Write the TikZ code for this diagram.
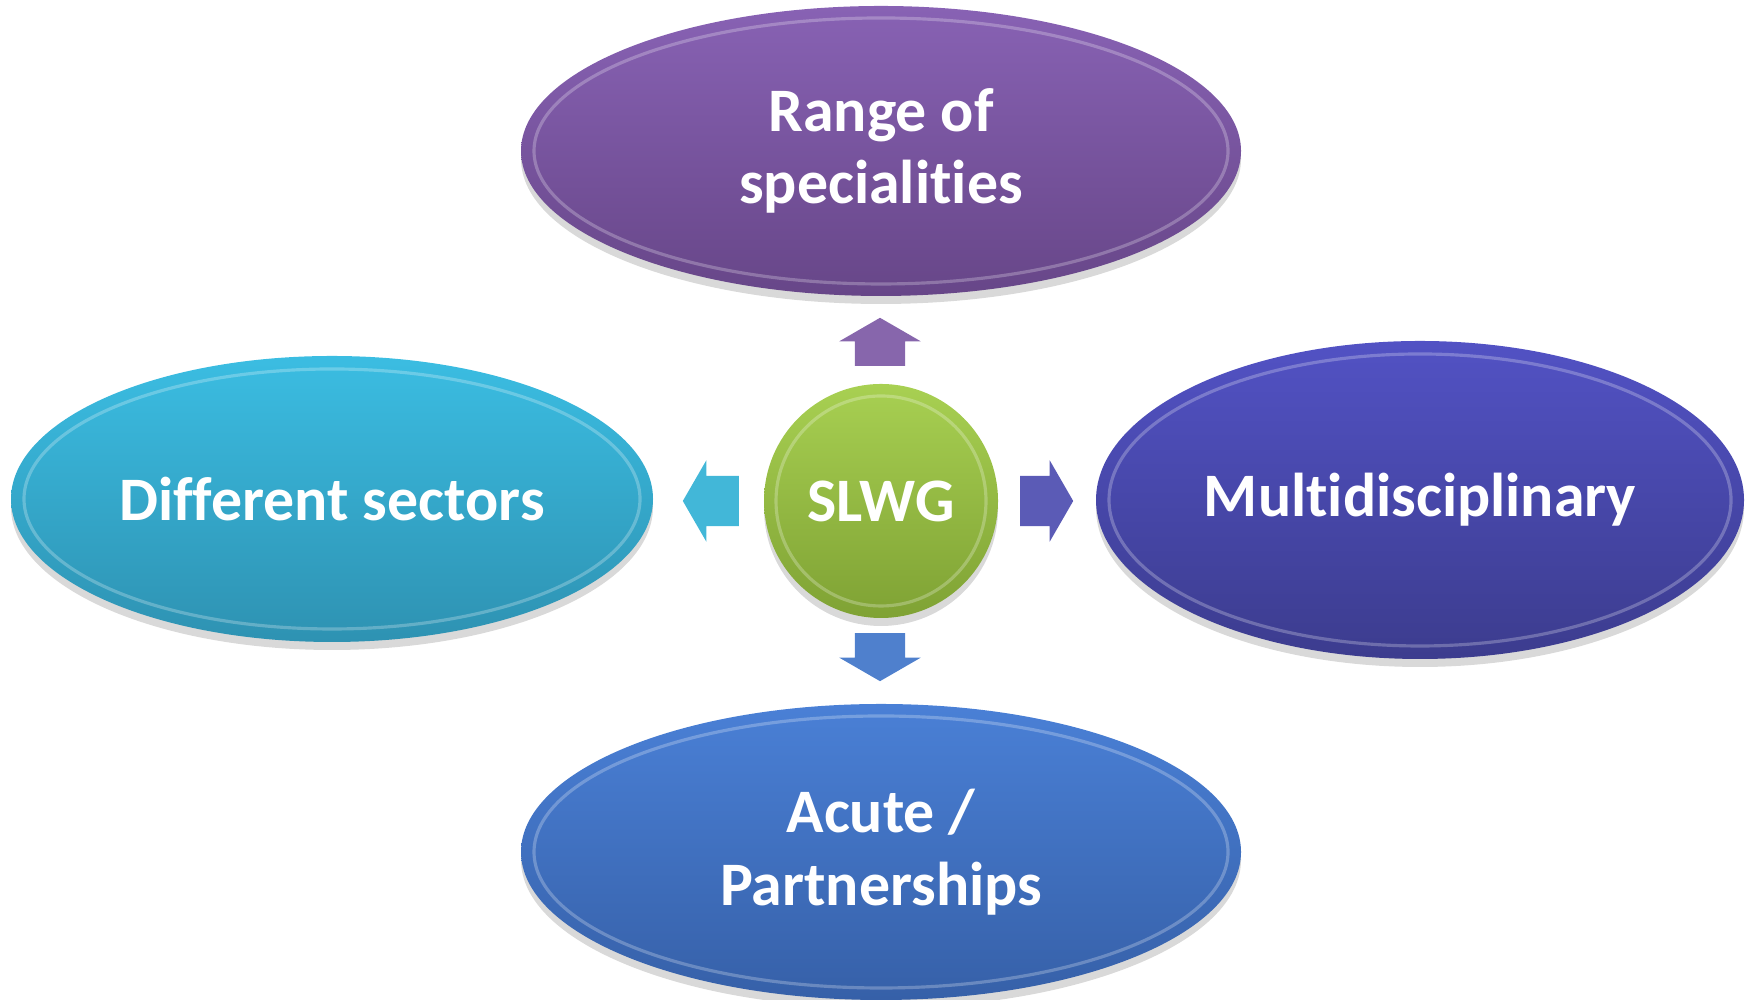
\documentclass[tikz,border=0pt]{standalone}
\usepackage{fontspec}
\setmainfont{Carlito}[Ligatures=NoCommon]
\usepackage{xcolor}
\usetikzlibrary{shapes.geometric,shapes.arrows,shadows}

\definecolor{rangeTop}{HTML}{8862B4}
\definecolor{rangeBot}{HTML}{674688}
\definecolor{sectTop}{HTML}{3BBDE2}
\definecolor{sectBot}{HTML}{2E92B2}
\definecolor{multiTop}{HTML}{5252C4}
\definecolor{multiBot}{HTML}{3C3C8E}
\definecolor{acuteTop}{HTML}{4A80D6}
\definecolor{acuteBot}{HTML}{3660A8}
\definecolor{hubTop}{HTML}{A8D052}
\definecolor{hubBot}{HTML}{7FA234}

\begin{document}
\begin{tikzpicture}[
  bubble/.style={ellipse, inner sep=0pt, text=white, align=center,
    font=\bfseries\fontsize{17.6}{20.6}\selectfont,
    drop shadow={opacity=0.3, shadow xshift=0pt, shadow yshift=-0.8mm}},
  rim/.style={draw=white, draw opacity=0.25, line width=0.9pt},
  blockarrow/.style={single arrow, draw=none, inner xsep=0pt, inner ysep=2.45mm,
    minimum height=4.8mm, single arrow head extend=1.55mm,
    single arrow tip angle=120, anchor=tip}
]
  \useasboundingbox (0,0) rectangle (17.53,10);

  % the four bubbles round the hub
  \node[bubble, top color=rangeTop, bottom color=rangeBot,
        minimum width=7.2cm, minimum height=2.9cm] (range) at (8.81,8.49) {Range of\\specialities};
  \node[bubble, top color=sectTop, bottom color=sectBot,
        minimum width=6.42cm, minimum height=2.86cm] (sectors) at (3.32,5.01) {Different sectors};
  \node[bubble, top color=multiTop, bottom color=multiBot,
        minimum width=6.48cm, minimum height=3.18cm] (multi) at (14.20,5.00) {Multidisciplinary};
  \node[bubble, top color=acuteTop, bottom color=acuteBot,
        minimum width=7.2cm, minimum height=2.96cm] (acute) at (8.81,1.48) {Acute /\\Partnerships};

  % hub
  \node[bubble, circle, top color=hubTop, bottom color=hubBot,
        minimum size=2.34cm] (hub) at (8.81,4.99) {SLWG};

  % bevel rims
  \draw[rim] (range.center) ellipse [x radius=3.47cm, y radius=1.33cm];
  \draw[rim] (sectors.center) ellipse [x radius=3.08cm, y radius=1.30cm];
  \draw[rim] (multi.center) ellipse [x radius=3.11cm, y radius=1.46cm];
  \draw[rim] (acute.center) ellipse [x radius=3.47cm, y radius=1.36cm];
  \draw[rim] (hub.center) circle (1.05cm);

  % block arrows, placed by their tips
  \node[blockarrow, fill=rangeTop!85!gray, rotate=90] (toRange) at (8.80,6.83) {};
  \node[blockarrow, fill=sectTop!90!gray, rotate=180, minimum height=5.6mm] (toSectors) at (6.82,4.99) {};
  \node[blockarrow, fill=multiTop!80!gray, rotate=0, minimum height=5.3mm] (toMulti) at (10.74,4.99) {};
  \node[blockarrow, fill=acuteTop!90!gray, rotate=-90] (toAcute) at (8.80,3.18) {};
\end{tikzpicture}
\end{document}
